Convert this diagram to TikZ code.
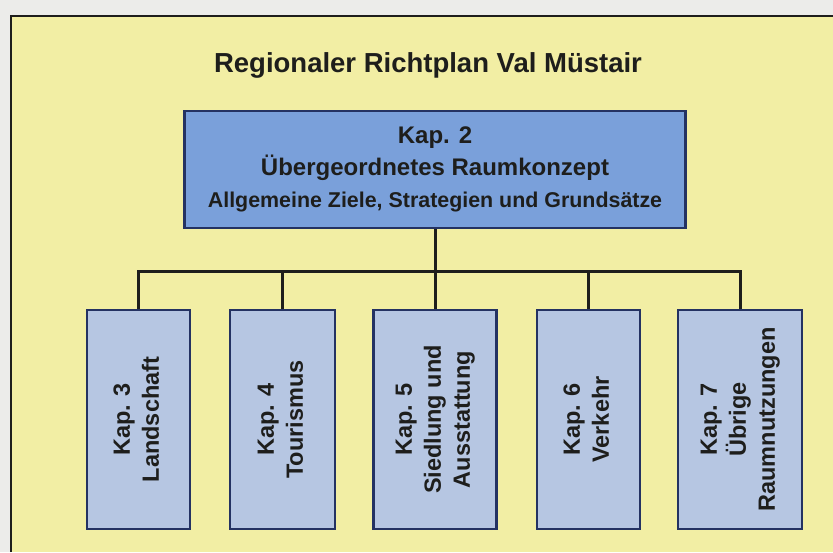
\documentclass[tikz,border=0pt]{standalone}
\usepackage{fontspec}
\setmainfont{Liberation Sans}
\usepackage{xcolor}
\usetikzlibrary{positioning, calc}
\definecolor{pagegray}{RGB}{236,236,234}
\definecolor{framefill}{RGB}{242,238,164}
\definecolor{topblue}{RGB}{122,160,218}
\definecolor{kapblue}{RGB}{182,198,226}
\definecolor{navy}{RGB}{36,50,98}
\definecolor{inkdark}{RGB}{30,30,28}
\newcommand{\vlabel}[1]{\rotatebox{90}{\begin{tabular}{@{}c@{}}#1\end{tabular}}}
\tikzset{
	topbox/.style={rectangle, draw=navy, line width=2.6pt, fill=topblue, text=inkdark, minimum width=501pt, minimum height=117pt, align=center, inner sep=0pt, font=\fontsize{24}{32}\selectfont\bfseries},
	kapbox/.style={rectangle, draw=navy, line width=2.6pt, fill=kapblue, text=inkdark, minimum height=219pt, inner sep=0pt, font=\fontsize{23.5}{29}\selectfont\bfseries},
	line/.style={draw=inkdark, line width=3pt}
}

\begin{document}
\begin{tikzpicture}[x=1pt, y=1pt]
		\useasboundingbox (0,0) rectangle (833,552);
		
		% --- Page and Frame ---
		\fill[pagegray] (0,0) rectangle (833,552);
		\fill[framefill] (11,0) rectangle (833,536);
		\draw[draw=inkdark, line width=2.4pt] (11,0) |- (833,536);
		
		% --- Title ---
		\node[text=inkdark, font=\fontsize{27.5}{32}\selectfont\bfseries] (title) at (428,487) {Regionaler Richtplan Val Müstair};
		
		% --- Top Box ---
		\node[topbox] (kap_2) at (435,382.5) {Kap. 2\\Übergeordnetes Raumkonzept\\{\fontsize{21.4}{30}\selectfont Allgemeine Ziele, Strategien und Grundsätze}};
		
		% --- Chapter Boxes ---
		\node[kapbox, minimum width=103pt] (kap_3) at (138.5,132.5) {\vlabel{Kap. 3\\Landschaft}};
		\node[kapbox, minimum width=105pt] (kap_4) at (282.5,132.5) {\vlabel{Kap. 4\\Tourismus}};
		\node[kapbox, minimum width=123pt] (kap_5) at (435,132.5) {\vlabel{Kap. 5\\Siedlung und\\Ausstattung}};
		\node[kapbox, minimum width=103pt] (kap_6) at (588.5,132.5) {\vlabel{Kap. 6\\Verkehr}};
		\node[kapbox, minimum width=124pt] (kap_7) at (740,132.5) {\vlabel{Kap. 7\\Übrige\\Raumnutzungen}};
		
		% --- Tree Lines ---
		\coordinate (bus) at (435,280);
		\draw[line] (kap_2.south) -- (bus);
		\draw[line] (kap_3.north) -- (kap_3 |- bus) -- (kap_7 |- bus) -- (kap_7.north);
		\draw[line] (kap_4.north) -- (kap_4 |- bus);
		\draw[line] (kap_5.north) -- (bus);
		\draw[line] (kap_6.north) -- (kap_6 |- bus);
		
	\end{tikzpicture}
\end{document}
